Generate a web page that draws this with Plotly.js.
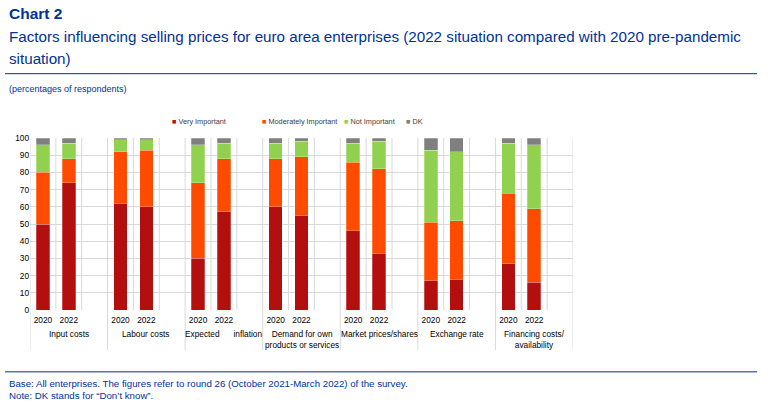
<!DOCTYPE html>
<html>
<head>
<meta charset="utf-8">
<script src="https://cdn.plot.ly/plotly-3.0.1.min.js"></script>
<style>
  html, body { margin:0; padding:0; background:#fff; }
  #chart { width:768px; height:411px; }
</style>
</head>
<body>
<div id="chart"></div>
<script>
(function(){
  // --------- Data ---------
  const groups = ['Input costs', 'Labour costs', 'Expected      inflation', 'Demand for own<br>products or services',
                  'Market prices/shares', 'Exchange rate', 'Financing costs/<br>availability'];
  const years  = ['2020', '2022'];

  // one value per bar: group by group, 2020 then 2022
  const veryImportant       = [50, 74, 62, 60, 30, 57, 60, 55, 46, 33, 17, 18, 27, 16];
  const moderatelyImportant = [30, 14, 30, 33, 44, 31, 28, 34, 40, 49, 34, 34, 41, 43];
  const notImportant        = [16,  9,  7,  6, 22,  9,  9,  9, 11, 16, 42, 40, 29, 37];
  const dontKnow            = [ 4,  3,  1,  1,  4,  3,  3,  2,  3,  2,  7,  8,  3,  4];

  const seriesNames  = ['Very Important', 'Moderately Important', 'Not Important', 'DK'];
  const seriesColors = ['#B40F0F', '#FF4B00', '#92D050', '#7F7F7F'];

  // --------- Geometry ---------
  const W = 768, H = 411;
  const L = 30, R = 573, T = 137.5, B = 310;
  const px = v => (v - L) / (R - L);
  const py = v => (B - v) / (B - T);
  const BLUE = '#003299';
  const FONT = 'Liberation Sans, Arial, sans-serif';

  const SLOTS = 3; // 2020, 2022, empty slot
  const xPos = [];
  groups.forEach((g, gi) => years.forEach((y, yi) => xPos.push(gi * SLOTS + yi)));
  const yearText = groups.flatMap(() => years);

  const traces = [veryImportant, moderatelyImportant, notImportant, dontKnow].map((vals, i) => ({
    type: 'bar', x: xPos, y: vals, name: seriesNames[i], width: 0.52,
    marker: { color: seriesColors[i], line: { color: 'rgba(255,255,255,0.5)', width: 0.5 } },
    hovertemplate: seriesNames[i] + ': %{y}<extra></extra>'
  }));

  const nSlots = groups.length * SLOTS;
  const shapes = [];
  for (let k = 0; k <= nSlots; k++) {
    const isGroup = (k % SLOTS === 0);
    shapes.push({
      type: 'line', xref: 'x', yref: 'paper', x0: k - 0.5, x1: k - 0.5,
      y0: isGroup ? py(350) : 0, y1: 1,
      line: { color: '#D9D9D9', width: 1 }, layer: 'below'
    });
  }
  // blue rules
  shapes.push({ type:'line', xref:'paper', yref:'paper', x0:px(5), x1:px(757), y0:py(73), y1:py(73), line:{color:BLUE, width:1} });
  shapes.push({ type:'line', xref:'paper', yref:'paper', x0:px(5), x1:px(757), y0:py(372), y1:py(372), line:{color:BLUE, width:1} });

  const txt = (x, y, text, size, opts) => Object.assign({
    xref:'paper', yref:'paper', x:px(x), y:py(y), text:text, showarrow:false,
    xanchor:'left', yanchor:'middle', align:'left',
    font:{ family:FONT, size:size, color:BLUE }
  }, opts || {});

  const annotations = [
    txt(7, 13, '<b>Chart 2</b>', 15.5),
    txt(7, 36, 'Factors influencing selling prices for euro area enterprises (2022 situation compared with 2020 pre-pandemic', 15.2),
    txt(7, 58, 'situation)', 15.2),
    txt(7, 88, '(percentages of respondents)', 9),
    txt(7, 384, 'Base: All enterprises. The figures refer to round 26 (October 2021-March 2022) of the survey.', 9.7),
    txt(7, 396, 'Note: DK stands for \u201cDon\u2019t know\u201d.', 9.7)
  ];

  // legend drawn as text: coloured square + name
  const legendX = [170, 260, 342, 404];
  seriesNames.forEach((n, i) => {
    annotations.push(txt(legendX[i], 121,
      '<span style="color:' + seriesColors[i] + '">\u25A0</span> ' + n, 7.3,
      { font:{ family:FONT, size:7.3, color:'#404040' } }));
  });

  // group labels centred on each 3-slot group
  groups.forEach((g, gi) => {
    annotations.push({
      xref:'x', yref:'paper', x: gi * SLOTS + 1, y: py(327), yanchor:'top', xanchor:'center',
      text: g, showarrow:false, align:'center',
      font:{ family:FONT, size:8.3, color:'#000' }
    });
  });

  const layout = {
    width: W, height: H,
    margin: { l: L, r: W - R, t: T, b: H - B, pad: 0 },
    paper_bgcolor: '#fff', plot_bgcolor: '#fff',
    barmode: 'stack', bargap: 0,
    showlegend: false,
    xaxis: { range:[-0.5, nSlots - 0.5], tickvals: xPos, ticktext: yearText,
             showgrid:false, zeroline:false, showline:false, ticks:'', ticklen:0,
             ticklabelstandoff: 4,
             tickfont:{ family:FONT, size:8.3, color:'#000' }, fixedrange:true },
    yaxis: { range:[0, 100], dtick:10, showgrid:true, gridcolor:'#D9D9D9', gridwidth:1,
             zeroline:false, showline:false, ticks:'', ticklen:0,
             tickfont:{ family:FONT, size:8.3, color:'#000' }, fixedrange:true },
    shapes: shapes,
    annotations: annotations,
    font: { family: FONT }
  };

  Plotly.newPlot('chart', traces, layout, { displayModeBar:false, staticPlot:true });
})();
</script>
</body>
</html>
